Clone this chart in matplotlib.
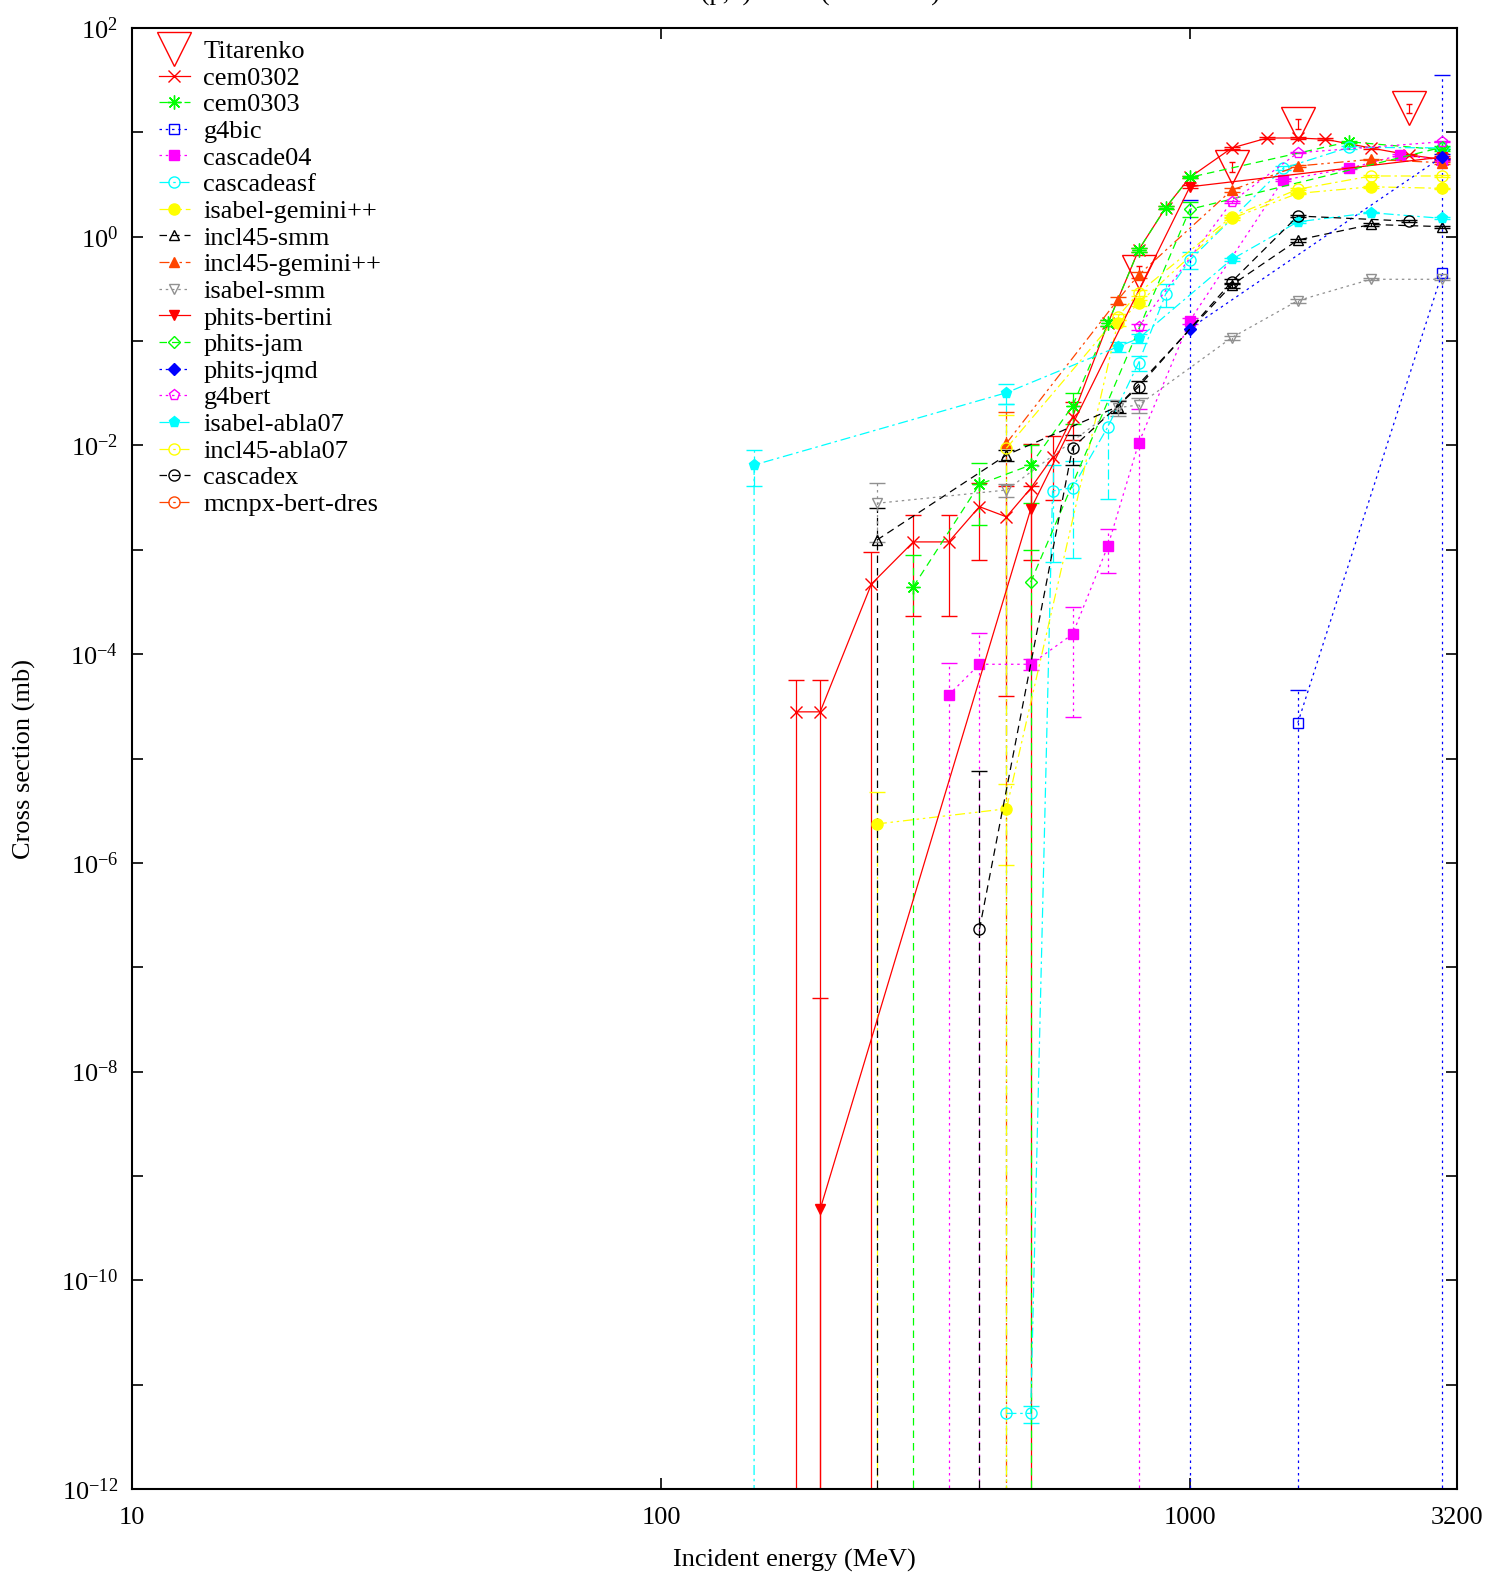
import numpy as np
import matplotlib.pyplot as plt
from matplotlib.ticker import FixedLocator, NullLocator, FuncFormatter

plt.rcParams['font.family'] = ['Liberation Serif', 'DejaVu Serif']
plt.rcParams['mathtext.fontset'] = 'custom'
plt.rcParams['mathtext.rm'] = 'Liberation Serif'
plt.rcParams['mathtext.default'] = 'regular'

# experimental data
tit_e = [800, 1200, 1600, 2600]
tit_v = [0.46, 4.7, 12.1, 17.0]
tit_err = [0.06, 0.5, 1.3, 1.8]

# model calculations
cem0302_e = [180, 200, 250, 300, 350, 400, 450, 500, 550, 600, 700, 800, 900, 1000,
             1200, 1400, 1600, 1800, 2200, 2600, 3000]
cem0302_v = [2.8e-5, 2.8e-5, 4.7e-4, 1.19e-3, 1.19e-3, 2.59e-3, 2.07e-3, 3.88e-3, 7.69e-3,
             1.88e-2, 0.148, 0.746, 1.90, 3.71, 7.08, 8.83, 8.83, 8.6, 7.08, 6.07, 5.5]
cem0302_err = [2.9e-5, 2.9e-5, 4.8e-4, 9.6e-4, 9.6e-4, 1.8e-3, 2.03e-3, 6.4e-3, 4.7e-3,
               7.5e-3, 0.01, 0.03, 0.05, 0.08, 0.15, 0.2, 0.2, 0.2, 0.15, 0.12, 0.12]

cem0303_e = [300, 400, 500, 600, 700, 800, 900, 1000, 2000, 3000]
cem0303_v = [4.43e-4, 4.24e-3, 6.49e-3, 2.39e-2, 0.148, 0.746, 1.90, 3.71, 8.13, 6.8]
cem0303_err = [4.5e-4, 2.5e-3, 3.7e-3, 8e-3, 0.01, 0.03, 0.05, 0.08, 0.15, 0.15]

g4bic_e = [1600, 3000]
g4bic_v = [2.2e-5, 0.452]
g4bic_err = [2.3e-5, 35.0]

cascade04_e = [350, 400, 500, 600, 700, 800, 1000, 1500, 2000, 2500, 3000]
cascade04_v = [4.06e-5, 8.0e-5, 8.0e-5, 1.55e-4, 1.09e-3, 1.05e-2, 0.157, 3.49, 4.52, 6.07, 5.43]
cascade04_err = [4.1e-5, 8.1e-5, 1e-5, 1.3e-4, 4.9e-4, 1.2e-2, 0.01, 0.1, 0.1, 0.1, 0.1]

cascadeasf_e = [450, 500, 550, 600, 700, 800, 900, 1000, 1500, 2000, 3000]
cascadeasf_v = [5.3e-12, 5.3e-12, 3.66e-3, 3.94e-3, 1.51e-2, 6.2e-2, 0.282, 0.598, 4.52, 7.19, 7.1]
cascadeasf_err = [2.5e-2, 1e-12, 2.9e-3, 3.1e-3, 1.2e-2, 1e-2, 0.07, 0.11, 0.2, 0.2, 0.2]

isagem_e = [256, 450, 730, 800, 1200, 1600, 2200, 3000]
isagem_v = [2.36e-6, 3.3e-6, 0.148, 0.230, 1.50, 2.6, 3.01, 2.91]
isagem_err = [2.4e-6, 2.35e-6, 0.01, 0.015, 0.05, 0.05, 0.05, 0.05]

inclsmm_e = [256, 450, 730, 1200, 1600, 2200, 3000]
inclsmm_v = [1.24e-3, 8.1e-3, 2.35e-2, 0.344, 0.93, 1.31, 1.25]
inclsmm_err = [1.3e-3, 1e-3, 3e-3, 0.02, 0.03, 0.03, 0.03]

inclgem_e = [450, 730, 800, 1200, 1600, 2200, 3000]
inclgem_v = [1.05e-2, 0.247, 0.43, 2.80, 4.76, 5.51, 5.12]
inclgem_err = [1.05e-2, 0.02, 0.03, 0.1, 0.1, 0.1, 0.1]

isasmm_e = [256, 450, 730, 800, 1200, 1600, 2200, 3000]
isasmm_v = [2.79e-3, 3.74e-3, 2.3e-2, 2.44e-2, 0.108, 0.244, 0.391, 0.391]
isasmm_err = [1.6e-3, 5e-4, 4e-3, 4e-3, 0.005, 0.01, 0.01, 0.01]

bertini_e = [200, 500, 1000, 3000]
bertini_v = [4.8e-10, 2.44e-3, 3.01, 5.8]
bertini_err = [5e-8, 1.65e-3, 0.1, 0.1]

jam_e = [500, 1000, 3000]
jam_v = [4.9e-4, 1.83, 7.2]
jam_err = [5e-4, 0.3, 0.2]

jqmd_e = [1000, 3000]
jqmd_v = [0.132, 5.84]
jqmd_err = [2.1, 0.3]

g4bert_e = [800, 1200, 1600, 3000]
g4bert_v = [0.137, 2.16, 6.38, 8.13]
g4bert_err = [0.01, 0.05, 0.1, 0.1]

isaabla_e = [150, 150, 450, 730, 800, 1200, 1600, 2200, 3000]
isaabla_v = [0.0, 6.5e-3, 3.2e-2, 8.8e-2, 0.106, 0.607, 1.39, 1.70, 1.50]
isaabla_err = [0.0, 2.45e-3, 7e-3, 0.01, 0.01, 0.02, 0.03, 0.03, 0.03]

inclabla_e = [450, 730, 800, 1200, 1600, 2200, 3000]
inclabla_v = [9.4e-3, 0.171, 0.29, 1.56, 2.85, 3.82, 3.82]
inclabla_err = [1e-2, 0.01, 0.02, 0.05, 0.05, 0.05, 0.05]

cascadex_e = [400, 600, 800, 1200, 1600, 2600]
cascadex_v = [2.3e-7, 9.5e-3, 3.65e-2, 0.371, 1.58, 1.41]
cascadex_err = [7.4e-6, 3e-3, 5e-3, 0.02, 0.03, 0.03]

mcnpx_e = []
mcnpx_v = []
mcnpx_err = []

solid = '-'
dashed = (0, (6, 4))
dotted = (0, (2, 3))
dashdot = (0, (8, 3, 2, 3))
dashdotdot = (0, (8, 3, 2, 3, 2, 3))

series = [
    ('cem0302', cem0302_e, cem0302_v, cem0302_err, '#ff0000', solid, 'x', 'none', 8),
    ('cem0303', cem0303_e, cem0303_v, cem0303_err, '#00ff00', dashed, (8, 2, 0), 'none', 10),
    ('g4bic', g4bic_e, g4bic_v, g4bic_err, '#0000ff', dotted, 's', 'none', 7),
    ('cascade04', cascade04_e, cascade04_v, cascade04_err, '#ff00ff', dotted, 's', '#ff00ff', 7),
    ('cascadeasf', cascadeasf_e, cascadeasf_v, cascadeasf_err, '#00ffff', dashdot, 'o', 'none', 8),
    ('isabel-gemini++', isagem_e, isagem_v, isagem_err, '#ffff00', dashdotdot, 'o', '#ffff00', 8),
    ('incl45-smm', inclsmm_e, inclsmm_v, inclsmm_err, '#000000', dashed, '^', 'none', 7),
    ('incl45-gemini++', inclgem_e, inclgem_v, inclgem_err, '#ff4500', dashdotdot, '^', '#ff4500', 7),
    ('isabel-smm', isasmm_e, isasmm_v, isasmm_err, '#909090', dotted, 'v', 'none', 7),
    ('phits-bertini', bertini_e, bertini_v, bertini_err, '#ff0000', solid, 'v', '#ff0000', 7),
    ('phits-jam', jam_e, jam_v, jam_err, '#00ff00', dashed, 'D', 'none', 6),
    ('phits-jqmd', jqmd_e, jqmd_v, jqmd_err, '#0000ff', dotted, 'D', '#0000ff', 6),
    ('g4bert', g4bert_e, g4bert_v, g4bert_err, '#ff00ff', dotted, 'p', 'none', 8),
    ('isabel-abla07', isaabla_e, isaabla_v, isaabla_err, '#00ffff', dashdot, 'p', '#00ffff', 8),
    ('incl45-abla07', inclabla_e, inclabla_v, inclabla_err, '#ffff00', dashdot, 'o', 'none', 8),
    ('cascadex', cascadex_e, cascadex_v, cascadex_err, '#000000', dashed, 'o', 'none', 8),
    ('mcnpx-bert-dres', mcnpx_e, mcnpx_v, mcnpx_err, '#ff4500', dashdot, 'o', 'none', 8),
]

fig = plt.figure(figsize=(14.9, 15.74), dpi=100)
ax = fig.add_axes([0.0886, 0.054, 0.8893, 0.9282])
ax.set_xscale('log')
ax.set_yscale('log', nonpositive='clip')

handles = []
labels = []

# Titarenko data
c = ax.errorbar(tit_e, tit_v, yerr=tit_err, ls='none', marker='v', ms=24, mfc='none',
                mec='#ff0000', mew=1.0, ecolor='#ff0000', elinewidth=0.9, capsize=2.5,
                capthick=0.9)
handles.append(c[0])
labels.append('Titarenko')

for name, e, v, err, col, ls, mk, mfc, ms in series:
    if len(e) == 0:
        h, = ax.plot(e, v, color=col, ls=ls, lw=0.9, marker=mk, ms=ms, mfc=mfc, mec=col)
    else:
        c = ax.errorbar(e, v, yerr=err, color=col, ls=ls, lw=0.9, marker=mk, ms=ms,
                        mfc=mfc, mec=col, mew=1.0, ecolor=col, elinewidth=0.9,
                        capsize=6, capthick=0.9)
        c[2][0].set_linestyle(ls)
        h = c[0]
    handles.append(h)
    labels.append(name)

ax.set_xlim(10, 3200)
ax.set_ylim(1e-12, 1e2)

ax.xaxis.set_major_locator(FixedLocator([10, 100, 1000, 3200]))
ax.xaxis.set_major_formatter(FuncFormatter(lambda x, p: '%d' % round(x)))
ax.xaxis.set_minor_locator(NullLocator())
ax.yaxis.set_major_locator(FixedLocator([10.0 ** k for k in range(-12, 3)]))
ax.yaxis.set_major_formatter(FuncFormatter(
    lambda y, p: r'$10^{%d}$' % round(np.log10(y)) if round(np.log10(y)) % 2 == 0 else ''))
ax.yaxis.set_minor_locator(NullLocator())
ax.tick_params(direction='in', length=8, width=1.2, top=True, right=True,
               labelsize=19, pad=10)
ax.tick_params(axis='x', pad=13)
for s in ax.spines.values():
    s.set_linewidth(1.5)

ax.set_xlabel('Incident energy (MeV)', fontsize=19, labelpad=14)
ax.set_ylabel('Cross section (mb)', fontsize=19, labelpad=18)

ax.legend(handles, labels, loc='upper left', bbox_to_anchor=(0.020, 0.992),
          frameon=False, fontsize=19, handlelength=1.2, labelspacing=0.12,
          handletextpad=0.5, borderaxespad=0, borderpad=0)

fig.text(0.533, 1.0 - 1.0 / 1574, 'Fe56(p,x)Mn52 (Titarenko)', ha='center',
         va='baseline', fontsize=19)

fig.savefig('out.png', dpi=100)
